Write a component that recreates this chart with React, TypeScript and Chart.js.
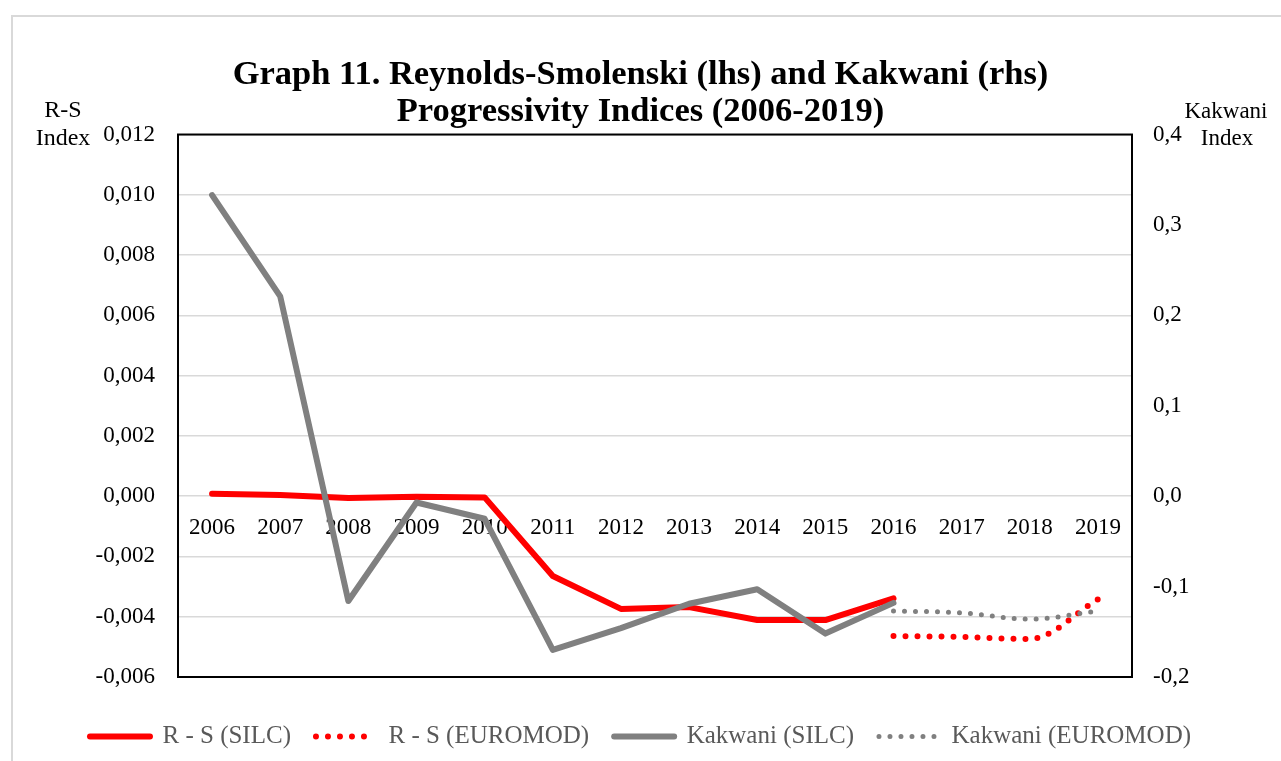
import React, { useEffect, useRef } from "react";
import { Chart, registerables } from "chart.js";

Chart.register(...registerables);

const years = ["2006", "2007", "2008", "2009", "2010", "2011", "2012", "2013", "2014", "2015", "2016", "2017", "2018", "2019"];

const rsSilc = [0.00008, 0.00004, -0.00006, -0.00002, -0.00004, -0.00265, -0.00374, -0.00368, -0.00411, -0.00411, -0.00339, null, null, null];
const rsEuromod = [null, null, null, null, null, null, null, null, null, null, -0.00464, -0.00467, -0.00474, -0.00342];
const kakwaniSilc = [0.333, 0.221, -0.116, -0.007, -0.025, -0.17, -0.146, -0.119, -0.103, -0.152, -0.118, null, null, null];
const kakwaniEuromod = [null, null, null, null, null, null, null, null, null, null, -0.127, -0.129, -0.136, -0.127];

const seriesNames = ["R - S (SILC)", "R - S (EUROMOD)", "Kakwani (SILC)", "Kakwani (EUROMOD)"];
const titleLines = ["Graph 11. Reynolds-Smolenski (lhs) and Kakwani (rhs)", "Progressivity Indices (2006-2019)"];
const leftAxisTitle = ["R-S", "Index"];
const rightAxisTitle = ["Kakwani", "Index"];

const leftMin = -0.006;
const leftMax = 0.012;
const leftStep = 0.002;
const rightMin = -0.2;
const rightMax = 0.4;
const rightStep = 0.1;

const FONT = "'Liberation Serif', 'Times New Roman', serif";

const fmt = (v: number, d: number) => {
  const n = Math.abs(v) < 1e-10 ? 0 : v;
  return n.toFixed(d).replace(".", ",");
};

const framePlugin = {
  id: "frames",
  beforeDraw(chart: any) {
    const ctx = chart.ctx;
    ctx.save();
    ctx.strokeStyle = "#d9d9d9";
    ctx.lineWidth = 2;
    ctx.strokeRect(12, 16, chart.width + 20, chart.height + 20);
    ctx.restore();
  },
  afterDraw(chart: any) {
    const ctx = chart.ctx;
    const { left, top, right, bottom } = chart.chartArea;
    ctx.save();
    ctx.strokeStyle = "#000000";
    ctx.lineWidth = 2;
    ctx.strokeRect(left, top, right - left, bottom - top);
    ctx.fillStyle = "#000000";
    ctx.font = `24px ${FONT}`;
    ctx.textAlign = "center";
    ctx.textBaseline = "alphabetic";
    ctx.fillText(leftAxisTitle[0], 63, 117);
    ctx.fillText(leftAxisTitle[1], 63, 145);
    ctx.font = `23px ${FONT}`;
    ctx.fillText(rightAxisTitle[0], 1226, 118);
    ctx.fillText(rightAxisTitle[1], 1227, 145);
    ctx.restore();
  },
};

export default function App() {
  const ref = useRef<HTMLCanvasElement>(null);
  useEffect(() => {
    if (!ref.current) return;
    Chart.defaults.font.family = FONT;
    const chart = new Chart(ref.current, {
      type: "line",
      data: {
        labels: years,
        datasets: [
          {
            label: seriesNames[0],
            data: rsSilc,
            yAxisID: "y",
            borderColor: "#ff0000",
            backgroundColor: "#ff0000",
            borderWidth: 6,
            borderCapStyle: "round",
            borderJoinStyle: "round",
            pointRadius: 0,
            order: 3,
          },
          {
            label: seriesNames[1],
            data: rsEuromod,
            yAxisID: "y",
            borderColor: "#ff0000",
            backgroundColor: "#ff0000",
            borderWidth: 6,
            borderDash: [0, 12],
            borderCapStyle: "round",
            borderJoinStyle: "round",
            cubicInterpolationMode: "monotone",
            pointRadius: 0,
            order: 2,
          },
          {
            label: seriesNames[2],
            data: kakwaniSilc,
            yAxisID: "y1",
            borderColor: "#808080",
            backgroundColor: "#808080",
            borderWidth: 6,
            borderCapStyle: "round",
            borderJoinStyle: "round",
            pointRadius: 0,
            order: 1,
          },
          {
            label: seriesNames[3],
            data: kakwaniEuromod,
            yAxisID: "y1",
            borderColor: "#808080",
            backgroundColor: "#808080",
            borderWidth: 5,
            borderDash: [0, 11],
            borderCapStyle: "round",
            borderJoinStyle: "round",
            cubicInterpolationMode: "monotone",
            pointRadius: 0,
            order: 0,
          },
        ],
      },
      options: {
        responsive: false,
        animation: false,
        layout: { padding: { left: 0, right: 0, top: 0, bottom: 2 } },
        plugins: {
          tooltip: { enabled: false },
          title: {
            display: true,
            text: titleLines,
            color: "#000000",
            font: { size: 34.5, weight: "bold", family: FONT, lineHeight: 1.08 },
            padding: { top: 56, bottom: 4 },
          },
          legend: {
            display: true,
            position: "bottom",
            title: { display: true, text: " ", font: { size: 10, lineHeight: 1.2 }, padding: { top: 10, bottom: 0 } },
            labels: {
              usePointStyle: true,
              pointStyle: "line",
              pointStyleWidth: 60,
              color: "#595959",
              font: { size: 25, family: FONT },
              padding: 25,
              generateLabels: (c: any) =>
                c.data.datasets.map((ds: any, i: number) => ({
                  text: ds.label,
                  fillStyle: ds.borderColor,
                  strokeStyle: ds.borderColor,
                  fontColor: "#595959",
                  lineWidth: ds.borderWidth,
                  lineDash: ds.borderDash || [],
                  lineDashOffset: 0,
                  lineCap: "round",
                  lineJoin: "round",
                  pointStyle: "line",
                  hidden: false,
                  datasetIndex: i,
                })),
            },
          },
        },
        scales: {
          x: {
            type: "category",
            position: { y: 0 } as any,
            offset: true,
            grid: { display: false, drawTicks: false },
            border: { display: false },
            ticks: {
              color: "#000000",
              font: { size: 23, family: FONT },
              padding: 18,
              autoSkip: false,
              maxRotation: 0,
            },
            afterFit: (s: any) => {
              s.height = 0;
            },
          },
          y: {
            type: "linear",
            position: "left",
            min: leftMin,
            max: leftMax,
            grid: { color: "#d9d9d9", lineWidth: 1.5, drawTicks: false },
            border: { display: false },
            ticks: {
              stepSize: leftStep,
              color: "#000000",
              font: { size: 23, family: FONT },
              padding: 23,
              callback: (v: any) => fmt(Number(v), 3),
            },
            afterFit: (s: any) => {
              s.width = 178;
            },
          },
          y1: {
            type: "linear",
            position: "right",
            min: rightMin,
            max: rightMax,
            grid: { display: false, drawTicks: false },
            border: { display: false },
            ticks: {
              stepSize: rightStep,
              color: "#000000",
              font: { size: 23, family: FONT },
              padding: 21,
              callback: (v: any) => fmt(Number(v), 1),
            },
            afterFit: (s: any) => {
              s.width = 149;
            },
          },
        },
      },
      plugins: [framePlugin],
    } as any);
    return () => chart.destroy();
  }, []);
  return (
    <div style={{ position: "absolute", left: 0, top: 0, width: 1281, height: 761 }}>
      <canvas ref={ref} width={1281} height={761} />
    </div>
  );
}
